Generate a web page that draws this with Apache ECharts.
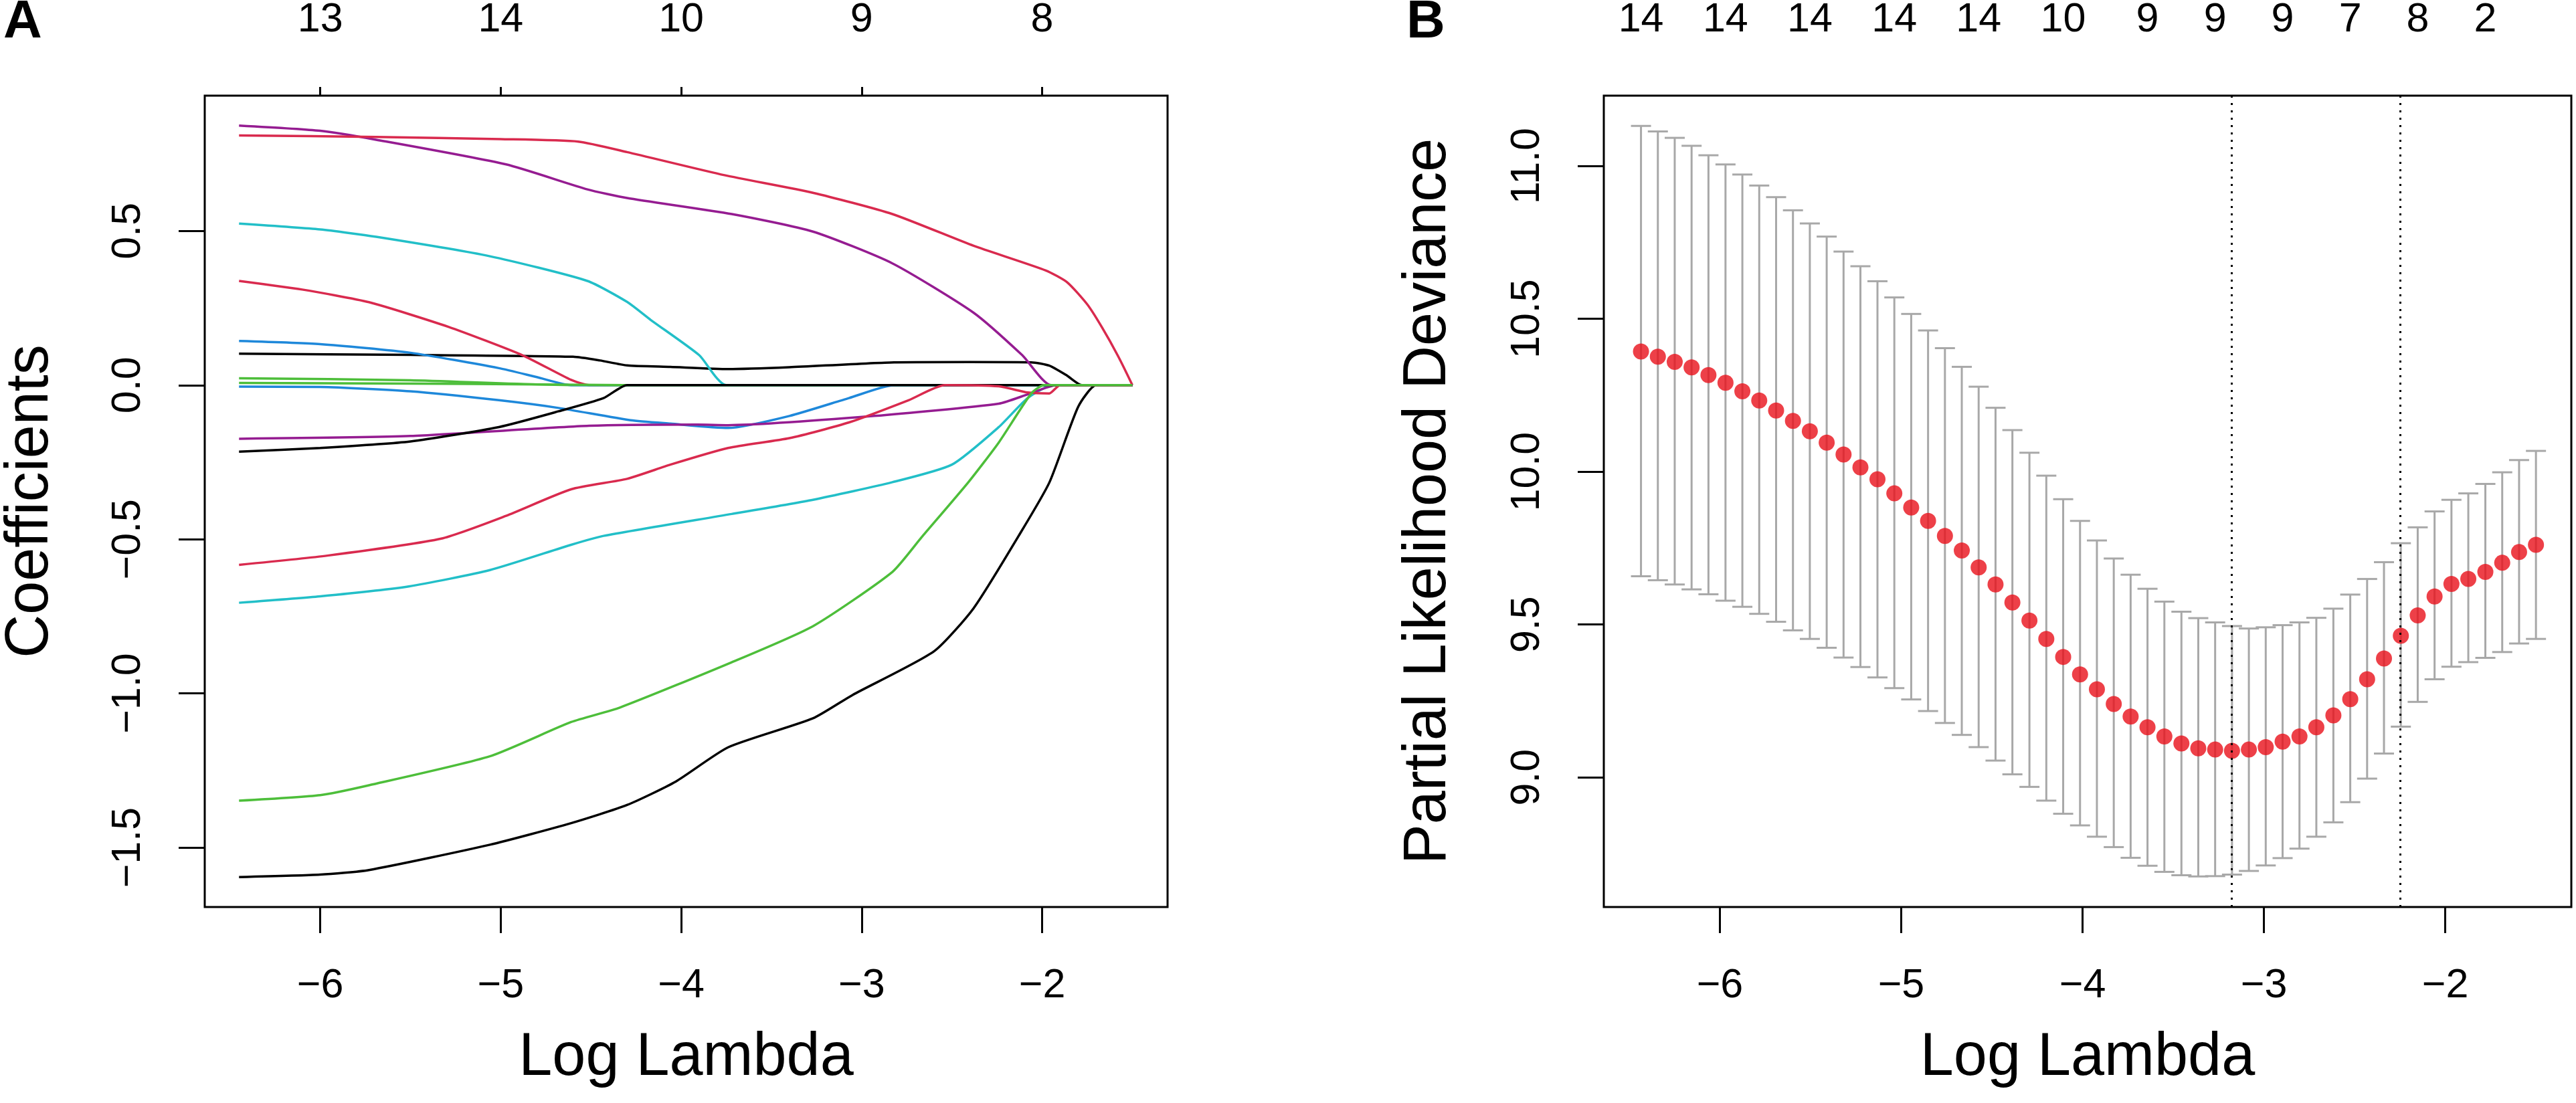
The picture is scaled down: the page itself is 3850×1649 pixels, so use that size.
<!DOCTYPE html>
<html>
<head>
<meta charset="utf-8">
<title>LASSO paths and CV deviance</title>
<style>
  html, body { margin: 0; padding: 0; background: #fff; }
  #chart { width: 3850px; height: 1649px; }
</style>
</head>
<body>
<div id="chart"></div>
<script src="https://cdn.jsdelivr.net/npm/echarts@6/dist/echarts.min.js"></script>
<script>
// ---- panel A: coefficient paths, [log lambda, coefficient], in matplot column order
var path01 = [[-6.45,0.102],[-5.5,0.098],[-4.6,0.092],[-4.45,0.080],[-4.3,0.064],[-4.06,0.059],[-3.74,0.052],[-3.4,0.058],[-2.82,0.074],[-2.4,0.075],[-2.06,0.074],[-1.96,0.063],[-1.86,0.030],[-1.78,0],[-1.5,0]];
var path02 = [[-6.45,0.338],[-6.1,0.310],[-5.73,0.269],[-5.29,0.189],[-4.88,0.097],[-4.61,0.017],[-4.51,0],[-1.5,0]];
var path03 = [[-6.45,0.022],[-5.5,0.016],[-4.6,0],[-1.5,0]];
var path04 = [[-6.45,0.143],[-6.0,0.133],[-5.5,0.105],[-5.01,0.055],[-4.8,0.026],[-4.61,0],[-1.5,0]];
var path05 = [[-6.45,0.524],[-6.0,0.505],[-5.69,0.481],[-5.06,0.418],[-4.52,0.338],[-4.3,0.270],[-4.17,0.212],[-3.9,0.097],[-3.75,0],[-1.5,0]];
var path06 = [[-6.45,0.842],[-6.0,0.825],[-5.69,0.796],[-4.97,0.716],[-4.52,0.635],[-4.3,0.607],[-3.72,0.555],[-3.27,0.498],[-2.83,0.395],[-2.38,0.235],[-2.11,0.097],[-1.95,0],[-1.5,0]];
var path07 = [[-6.45,-1.596],[-6.0,-1.588],[-5.73,-1.573],[-5.06,-1.491],[-4.61,-1.421],[-4.3,-1.362],[-4.03,-1.286],[-3.74,-1.175],[-3.27,-1.081],[-3.05,-1.005],[-2.6,-0.864],[-2.38,-0.724],[-2.13,-0.489],[-1.96,-0.316],[-1.8,-0.070],[-1.7,0],[-1.5,0]];
var path08 = [[-6.45,0.810],[-5.69,0.805],[-5.0,0.798],[-4.57,0.790],[-4.3,0.756],[-3.76,0.681],[-3.27,0.624],[-2.83,0.555],[-2.38,0.452],[-1.98,0.372],[-1.86,0.333],[-1.75,0.262],[-1.67,0.189],[-1.58,0.095],[-1.5,0]];
var path09 = [[-6.45,0.007],[-5.5,0.005],[-4.8,0.002],[-4.32,0],[-1.5,0]];
var path10 = [[-6.45,-0.005],[-6.0,-0.006],[-5.5,-0.020],[-5.01,-0.049],[-4.68,-0.074],[-4.28,-0.114],[-4.06,-0.125],[-3.74,-0.139],[-3.4,-0.100],[-3.07,-0.042],[-2.82,0],[-1.5,0]];
var path11 = [[-6.45,-0.706],[-6.0,-0.685],[-5.51,-0.653],[-5.06,-0.600],[-4.61,-0.518],[-4.43,-0.489],[-3.72,-0.418],[-3.27,-0.372],[-2.83,-0.315],[-2.5,-0.258],[-2.24,-0.136],[-2.08,-0.042],[-1.94,0],[-1.5,0]];
var path12 = [[-6.45,-0.174],[-5.5,-0.165],[-4.51,-0.132],[-3.91,-0.128],[-3.74,-0.130],[-2.93,-0.100],[-2.24,-0.060],[-2.08,-0.030],[-1.92,0],[-1.5,0]];
var path13 = [[-6.45,-0.216],[-6.0,-0.204],[-5.5,-0.183],[-5.01,-0.136],[-4.68,-0.085],[-4.43,-0.042],[-4.3,0],[-1.5,0]];
var path14 = [[-6.45,-0.583],[-5.96,-0.553],[-5.33,-0.498],[-4.97,-0.424],[-4.61,-0.338],[-4.3,-0.304],[-4.06,-0.258],[-3.74,-0.204],[-3.4,-0.172],[-3.07,-0.121],[-2.74,-0.049],[-2.54,0],[-2.24,-0.004],[-2.08,-0.024],[-1.96,-0.027],[-1.9,0],[-1.5,0]];
var path15 = [[-6.45,-1.348],[-6.0,-1.330],[-5.73,-1.298],[-5.06,-1.204],[-4.61,-1.093],[-4.34,-1.046],[-3.72,-0.899],[-3.27,-0.782],[-2.83,-0.606],[-2.67,-0.495],[-2.41,-0.316],[-2.24,-0.186],[-2.06,-0.027],[-1.99,0],[-1.5,0]];
var paths = [path01, path02, path03, path04, path05, path06, path07, path08, path09, path10, path11, path12, path13, path14, path15];

var ticksA = [-6, -5, -4, -3, -2];
var dfA = ['13', '14', '10', '9', '8'];
var yTicksA = [-1.5, -1.0, -0.5, 0.0, 0.5];

// ---- panel B: cross-validated partial likelihood deviance
var logLambda = [-6.435,-6.342,-6.249,-6.156,-6.063,-5.969,-5.876,-5.783,-5.690,-5.597,
  -5.504,-5.411,-5.318,-5.225,-5.131,-5.038,-4.945,-4.852,-4.759,-4.666,
  -4.573,-4.480,-4.387,-4.293,-4.200,-4.107,-4.014,-3.921,-3.828,-3.735,
  -3.642,-3.549,-3.455,-3.362,-3.269,-3.176,-3.083,-2.990,-2.897,-2.804,
  -2.711,-2.617,-2.524,-2.431,-2.338,-2.245,-2.152,-2.059,-1.966,-1.873,
  -1.779,-1.686,-1.593,-1.500];
var cvMean = [10.393,10.376,10.359,10.341,10.316,10.291,10.263,10.233,10.200,10.166,
  10.132,10.095,10.056,10.014,9.975,9.929,9.883,9.839,9.790,9.742,
  9.687,9.631,9.572,9.513,9.453,9.394,9.337,9.288,9.240,9.199,
  9.164,9.134,9.111,9.095,9.091,9.087,9.091,9.099,9.117,9.134,
  9.164,9.203,9.256,9.321,9.389,9.463,9.530,9.592,9.633,9.649,
  9.672,9.702,9.737,9.761];
var cvUpper = [11.131,11.113,11.092,11.066,11.035,11.005,10.972,10.936,10.898,10.855,
  10.812,10.769,10.720,10.672,10.623,10.570,10.516,10.462,10.404,10.343,
  10.278,10.209,10.136,10.062,9.987,9.910,9.839,9.775,9.716,9.663,
  9.617,9.575,9.542,9.521,9.507,9.495,9.487,9.491,9.498,9.507,
  9.522,9.552,9.598,9.649,9.704,9.766,9.818,9.870,9.908,9.929,
  9.960,9.998,10.038,10.068];
var cvLower = [9.658,9.645,9.631,9.615,9.599,9.578,9.558,9.535,9.509,9.481,
  9.453,9.424,9.392,9.361,9.327,9.292,9.255,9.217,9.178,9.139,
  9.099,9.055,9.010,8.969,8.924,8.881,8.843,8.806,8.772,8.737,
  8.711,8.691,8.680,8.676,8.677,8.682,8.694,8.712,8.736,8.767,
  8.806,8.853,8.919,8.996,9.078,9.166,9.247,9.321,9.362,9.377,
  9.391,9.410,9.438,9.453];
var minIdx = 35, seIdx = 45;
var nzIdx = [0, 5, 10, 15, 20, 25, 30, 34, 38, 42, 46, 50];
var nzLabels = ['14', '14', '14', '14', '14', '10', '9', '9', '9', '7', '8', '2'];
var yTicksB = [9.0, 9.5, 10.0, 10.5, 11.0];

// ---- styling
var FONT = '"Liberation Sans", Arial, Helvetica, sans-serif';
var pal = ['#000000', '#D92A4E', '#4DBE3A', '#1E88DA', '#22BFC8', '#951C91'];
var barColor = '#A8A8A8';

function fmt1(v) {
  return (v < 0 ? '\u2212' : '') + Math.abs(v).toFixed(1);
}
function fmtInt(v) {
  return (v < 0 ? '\u2212' : '') + Math.abs(Math.round(v));
}
function nearest(arr, v) {
  var best = 0;
  for (var i = 1; i < arr.length; i++) {
    if (Math.abs(arr[i] - v) < Math.abs(arr[best] - v)) best = i;
  }
  return best;
}

var labelStyle = { fontFamily: FONT, fontSize: 61, color: '#000' };
var nameStyle = { fontFamily: FONT, fontSize: 90, color: '#000' };

var chart = echarts.init(document.getElementById('chart'), null, { renderer: 'canvas' });

var xTopB = nzIdx.map(function (i) { return logLambda[i]; });

var series = paths.map(function (p, k) {
  return {
    type: 'line',
    xAxisIndex: 0, yAxisIndex: 0,
    data: p,
    showSymbol: false,
    smooth: 0.2,
    lineStyle: { color: pal[k % 6], width: 3.5 },
    z: 2 + k
  };
});

series.push({
  type: 'custom',
  xAxisIndex: 2, yAxisIndex: 1,
  data: logLambda.map(function (x, i) { return [x, cvLower[i], cvUpper[i]]; }),
  encode: { x: 0, y: [1, 2] },
  renderItem: function (params, api) {
    var x = api.value(0);
    var top = api.coord([x, api.value(2)]);
    var bot = api.coord([x, api.value(1)]);
    var hw = 15;
    var st = { stroke: barColor, lineWidth: 3 };
    return {
      type: 'group',
      children: [
        { type: 'line', shape: { x1: top[0], y1: top[1], x2: bot[0], y2: bot[1] }, style: st },
        { type: 'line', shape: { x1: top[0] - hw, y1: top[1], x2: top[0] + hw, y2: top[1] }, style: st },
        { type: 'line', shape: { x1: bot[0] - hw, y1: bot[1], x2: bot[0] + hw, y2: bot[1] }, style: st }
      ]
    };
  },
  z: 2
});

series.push({
  type: 'scatter',
  xAxisIndex: 2, yAxisIndex: 1,
  data: logLambda.map(function (x, i) { return [x, cvMean[i]]; }),
  symbol: 'circle',
  symbolSize: 24,
  itemStyle: { color: '#E8101A' },
  z: 4,
  markLine: {
    silent: true,
    symbol: 'none',
    label: { show: false },
    lineStyle: { color: '#000', width: 3, type: [3, 8] },
    data: [{ xAxis: logLambda[minIdx] }, { xAxis: logLambda[seIdx] }]
  }
});

function xAxisCfg(grid, pos, extra) {
  var base = {
    type: 'value', gridIndex: grid, position: pos, min: -6.64, max: -1.305,
    axisLine: { show: false, onZero: false },
    splitLine: { show: false }
  };
  return Object.assign(base, extra);
}

var option = {
  animation: false,
  backgroundColor: '#fff',
  graphic: [
    { type: 'text', style: { text: 'A', x: 5, y: 34, verticalAlign: 'middle', font: 'bold 80px ' + FONT, fill: '#000' } },
    { type: 'text', style: { text: 'B', x: 2102, y: 34, verticalAlign: 'middle', font: 'bold 80px ' + FONT, fill: '#000' } }
  ],
  grid: [
    { left: 300, top: 141, width: 1445, height: 1215, show: true, borderColor: '#000', borderWidth: 3, backgroundColor: 'transparent' },
    { left: 2397, top: 141, width: 1446, height: 1215, show: true, borderColor: '#000', borderWidth: 3, backgroundColor: 'transparent' }
  ],
  xAxis: [
    xAxisCfg(0, 'bottom', {
      name: 'Log Lambda', nameLocation: 'middle', nameGap: 181, nameTextStyle: nameStyle,
      axisTick: { show: true, length: 39, lineStyle: { color: '#000', width: 3 }, customValues: ticksA },
      axisLabel: Object.assign({ margin: 88, customValues: ticksA, formatter: fmtInt }, labelStyle)
    }),
    xAxisCfg(0, 'top', {
      axisTick: { show: true, length: 13, lineStyle: { color: '#000', width: 3 }, customValues: ticksA },
      axisLabel: Object.assign({ margin: 82, customValues: ticksA, formatter: function (v) { return dfA[nearest(ticksA, v)]; } }, labelStyle)
    }),
    xAxisCfg(1, 'bottom', {
      name: 'Log Lambda', nameLocation: 'middle', nameGap: 181, nameTextStyle: nameStyle,
      axisTick: { show: true, length: 39, lineStyle: { color: '#000', width: 3 }, customValues: ticksA },
      axisLabel: Object.assign({ margin: 88, customValues: ticksA, formatter: fmtInt }, labelStyle)
    }),
    xAxisCfg(1, 'top', {
      axisTick: { show: false },
      axisLabel: Object.assign({ margin: 82, customValues: xTopB, formatter: function (v) { return nzLabels[nearest(xTopB, v)]; } }, labelStyle)
    })
  ],
  yAxis: [
    {
      type: 'value', gridIndex: 0, min: -1.693, max: 0.939,
      name: 'Coefficients', nameLocation: 'middle', nameRotate: 90, nameGap: 215, nameTextStyle: nameStyle,
      axisLine: { show: false, onZero: false },
      axisTick: { show: true, length: 39, lineStyle: { color: '#000', width: 3 }, customValues: yTicksA },
      axisLabel: Object.assign({ margin: 83, rotate: 90, customValues: yTicksA, formatter: fmt1 }, labelStyle),
      splitLine: { show: false }
    },
    {
      type: 'value', gridIndex: 1, min: 8.576, max: 11.23,
      name: 'Partial Likelihood Deviance', nameLocation: 'middle', nameRotate: 90, nameGap: 217, nameTextStyle: nameStyle,
      axisLine: { show: false, onZero: false },
      axisTick: { show: true, length: 39, lineStyle: { color: '#000', width: 3 }, customValues: yTicksB },
      axisLabel: Object.assign({ margin: 83, rotate: 90, customValues: yTicksB, formatter: fmt1 }, labelStyle),
      splitLine: { show: false }
    }
  ],
  series: series
};

chart.setOption(option);
</script>
</body>
</html>
